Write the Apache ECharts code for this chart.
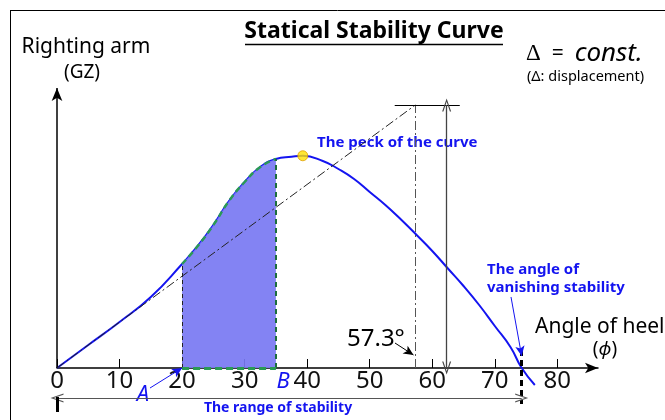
<!DOCTYPE html>
<html>
<head>
<meta charset="utf-8">
<script src="https://cdn.jsdelivr.net/npm/echarts@6/dist/echarts.min.js"></script>
<style>
  html, body { margin: 0; padding: 0; background: #fff; }
  #chart { width: 665px; height: 420px; }
</style>
</head>
<body>
<div id="chart"></div>
<script>
// heel angle (deg) and righting arm GZ
const angleDeg = [0, 5, 10, 15, 20, 22.5, 25, 27.5, 30, 32.5, 35, 37.5, 39.3, 42.5, 45, 47.5, 50, 52.5, 55, 57.5, 60, 62.5, 65, 67.5, 70, 72.5, 74.3, 76.4];
const gzValues = [0, 0.092, 0.184, 0.284, 0.416, 0.488, 0.572, 0.668, 0.744, 0.804, 0.836, 0.845, 0.849, 0.828, 0.796, 0.756, 0.704, 0.652, 0.594, 0.532, 0.468, 0.398, 0.328, 0.252, 0.168, 0.084, 0, -0.068];
const tickLabels = [0, 10, 20, 30, 40, 50, 60, 70, 80];

const areaRange = [20, 35];       // A .. B
const peakPoint = [39.3, 0.849];  // the peck of the curve
const radianAngle = 57.3;         // 1 rad
const tangentTop = 1.052;         // GZ of tangent at 57.3 deg
const vanishAngle = 74.3;         // angle of vanishing stability
const doubleArrowAngle = 62.3;

const FONT = "'Noto Sans', 'Noto Sans CJK KR', sans-serif";
const BLUE = '#1414f0';

const curve = angleDeg.map((a, i) => [a, gzValues[i]]);
const areaData = curve.filter(p => p[0] >= areaRange[0] && p[0] <= areaRange[1]);
const gzAt = a => gzValues[angleDeg.indexOf(a)];

const vee = 'path://M5,0 L10,12 L8.6,12 L5,3 L1.4,12 L0,12 Z';

function seg(p1, p2, color, width, type, s1, s2, size) {
  return [
    Object.assign({}, p1, { symbol: s1 || 'none', symbolSize: size || 8 }),
    Object.assign({}, p2, { symbol: s2 || 'none', symbolSize: size || 8,
      lineStyle: { color: color, width: width, type: type } })
  ];
}

const chart = echarts.init(document.getElementById('chart'));

const option = {
  animation: false,
  grid: { left: 57, right: 67, top: 88, bottom: 2, containLabel: false, outerBoundsMode: 'none' },
  xAxis: {
    type: 'value',
    min: 0,
    max: 86.5,
    position: 'bottom',
    offset: -50, // axis sits on GZ = 0
    axisLine: {
      onZero: false,
      symbol: ['none', 'arrow'],
      symbolSize: [8, 13],
      lineStyle: { color: '#000', width: 1.5 }
    },
    axisTick: {
      customValues: tickLabels,
      inside: true,
      length: 9,
      lineStyle: { color: '#000', width: 1 }
    },
    axisLabel: {
      customValues: tickLabels,
      fontSize: 24,
      fontFamily: FONT,
      color: '#111',
      margin: 1
    },
    splitLine: { show: false }
  },
  yAxis: {
    type: 'value',
    min: -0.2,
    max: 1.12,
    axisLine: { show: false },
    axisTick: { show: false },
    axisLabel: { show: false },
    splitLine: { show: false }
  },
  series: [
    {
      type: 'line',
      data: curve,
      smooth: true,
      symbol: 'none',
      clip: false,
      lineStyle: { color: BLUE, width: 2 },
      z: 3
    },
    {
      type: 'line',
      data: areaData,
      smooth: true,
      symbol: 'none',
      lineStyle: { color: '#2a9a55', width: 2.5, type: [6, 4] },
      areaStyle: { color: '#7878f2', opacity: 0.92 },
      z: 4
    },
    {
      type: 'line',
      data: [],
      z: 5,
      markLine: {
        silent: true,
        animation: false,
        label: { show: false },
        emphasis: { disabled: true },
        data: [
          // y axis
          seg({ coord: [0, 0] }, { coord: [0, 1.12] }, '#000', 1.5, 'solid', 'none', 'arrow', [8, 13]),
          // fill edges
          seg({ coord: [areaRange[0], 0] }, { coord: [areaRange[0], gzAt(areaRange[0])] }, '#222', 1, [4, 3]),
          seg({ coord: [areaRange[1], 0] }, { coord: [areaRange[1], gzAt(areaRange[1])] }, '#1e6e3c', 2, [5, 4]),
          seg({ coord: [areaRange[0], 0] }, { coord: [areaRange[1], 0] }, '#2a9a55', 3, [7, 4]),
          // tangent at origin
          seg({ coord: [0, 0] }, { coord: [radianAngle, tangentTop] }, '#222', 1, [9, 3, 2, 3]),
          seg({ coord: [radianAngle, 0] }, { coord: [radianAngle, tangentTop] }, '#555', 1, [9, 3, 2, 3]),
          seg({ coord: [54, tangentTop] }, { coord: [64.4, tangentTop] }, '#000', 1, 'solid'),
          seg({ coord: [doubleArrowAngle, 0] }, { coord: [doubleArrowAngle, tangentTop] }, '#444', 1.3, 'solid', vee, vee, [9, 13]),
          // vanishing angle marker and range of stability
          seg({ coord: [vanishAngle, 0.072] }, { coord: [vanishAngle, -0.144] }, '#000', 3, [6, 4]),
          seg({ coord: [0, -0.12] }, { coord: [vanishAngle, -0.12] }, '#555', 1.2, 'solid', vee, vee, [9, 13]),
          seg({ coord: [0, -0.116] }, { coord: [0, -0.176] }, '#000', 3, 'solid'),
          // pointer arrows from labels
          seg({ x: 150, y: 388 }, { coord: [areaRange[0], 0] }, BLUE, 1, 'solid', 'none', 'arrow', [7, 10]),
          seg({ x: 395, y: 343 }, { coord: [radianAngle - 0.3, 0.052] }, '#000', 1, 'solid', 'none', 'arrow', [7, 10]),
          seg({ x: 511, y: 297 }, { coord: [vanishAngle, 0.048] }, BLUE, 1, 'solid', 'none', 'arrow', [7, 10])
        ]
      }
    },
    {
      type: 'scatter',
      data: [peakPoint],
      symbolSize: 10,
      itemStyle: { color: '#ffe100', borderColor: '#e0a000', borderWidth: 1 },
      z: 6
    }
  ],
  graphic: [
    { type: 'line', shape: { x1: 10.5, y1: 10, x2: 10.5, y2: 420 }, style: { stroke: '#000', lineWidth: 1 } },
    { type: 'line', shape: { x1: 10, y1: 10.5, x2: 665, y2: 10.5 }, style: { stroke: '#000', lineWidth: 1 } },
    { type: 'text', style: { x: 374, y: 31, text: 'Statical Stability Curve', font: 'bold 23px ' + FONT, fill: '#000', textAlign: 'center', textVerticalAlign: 'middle' } },
    { type: 'line', shape: { x1: 245, y1: 44.5, x2: 503, y2: 44.5 }, style: { stroke: '#000', lineWidth: 1.5 } },
    { type: 'text', style: { x: 86, y: 47, text: 'Righting arm', font: '21px ' + FONT, fill: '#000', textAlign: 'center', textVerticalAlign: 'middle' } },
    { type: 'text', style: { x: 82, y: 73, text: '(GZ)', font: '19px ' + FONT, fill: '#000', textAlign: 'center', textVerticalAlign: 'middle' } },
    { type: 'text', style: { x: 526, y: 54, text: '{d|Δ}{n|  =  }{i|const.}', textVerticalAlign: 'middle',
      rich: {
        d: { font: "23px 'Liberation Serif', 'DejaVu Serif', serif", fill: '#000' },
        n: { font: '21px ' + FONT, fill: '#000' },
        i: { font: 'italic 26px ' + FONT, fill: '#000' }
      } } },
    { type: 'text', style: { x: 527, y: 77, text: '(Δ: displacement)', font: '14.5px ' + FONT, fill: '#000', textVerticalAlign: 'middle' } },
    { type: 'text', style: { x: 317, y: 143, text: 'The peck of the curve', font: 'bold 15px ' + FONT, fill: BLUE, textVerticalAlign: 'middle' } },
    { type: 'text', style: { x: 487, y: 270, text: 'The angle of', font: 'bold 15px ' + FONT, fill: BLUE, textVerticalAlign: 'middle' } },
    { type: 'text', style: { x: 487, y: 288, text: 'vanishing stability', font: 'bold 15px ' + FONT, fill: BLUE, textVerticalAlign: 'middle' } },
    { type: 'text', style: { x: 535, y: 327, text: 'Angle of heel', font: '21px ' + FONT, fill: '#000', textVerticalAlign: 'middle' } },
    { type: 'text', style: { x: 605, y: 350, text: '{n|(}{i|ϕ}{n|)}', textAlign: 'center', textVerticalAlign: 'middle',
      rich: { n: { font: '19px ' + FONT, fill: '#000' }, i: { font: 'italic 19px ' + FONT, fill: '#000' } } } },
    { type: 'text', style: { x: 347, y: 339, text: '57.3°', font: '24px ' + FONT, fill: '#000', textVerticalAlign: 'middle' } },
    { type: 'text', style: { x: 143, y: 395, text: 'A', font: 'italic 22px ' + FONT, fill: BLUE, textAlign: 'center', textVerticalAlign: 'middle' } },
    { type: 'text', style: { x: 283, y: 382, text: 'B', font: 'italic 22px ' + FONT, fill: BLUE, textAlign: 'center', textVerticalAlign: 'middle' } },
    { type: 'text', style: { x: 278, y: 408, text: 'The range of stability', font: 'bold 14px ' + FONT, fill: BLUE, textAlign: 'center', textVerticalAlign: 'middle' } }
  ]
};

chart.setOption(option);
</script>
</body>
</html>
